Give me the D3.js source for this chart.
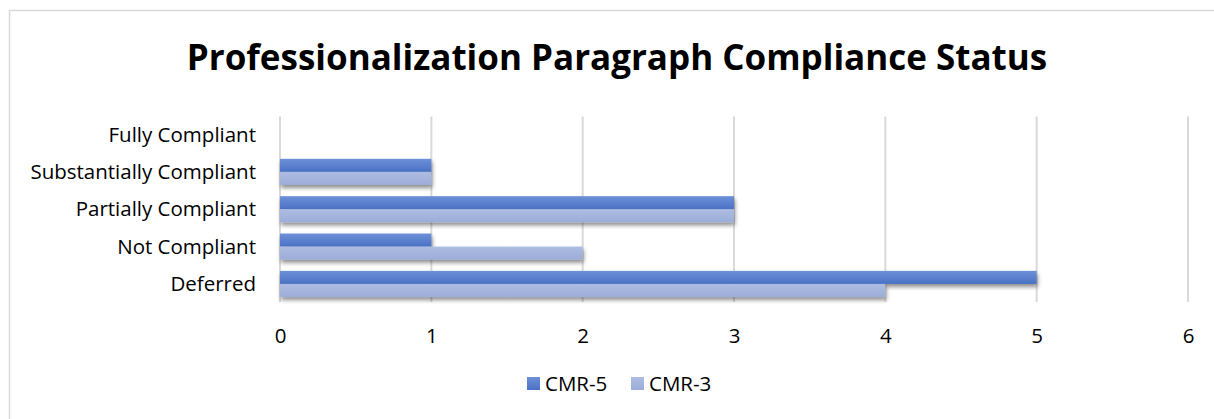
<!DOCTYPE html>
<html>
<head>
<meta charset="utf-8">
<script src="https://cdn.jsdelivr.net/npm/d3@7"></script>
<style>
  body { margin: 0; background: #fff; }
  svg text { font-family: "Open Sans", sans-serif; fill: #000; }
</style>
</head>
<body>
<div id="container"></div>
<script>
/* DATA */
const categories = ["Fully Compliant", "Substantially Compliant", "Partially Compliant", "Not Compliant", "Deferred"];
const seriesNames = ["CMR-5", "CMR-3"];
const cmr5 = [0, 1, 3, 1, 5];
const cmr3 = [0, 1, 3, 2, 4];
const xTicks = [0, 1, 2, 3, 4, 5, 6];
const title = "Professionalization Paragraph Compliance Status";

/* CONSTANTS */
const width = 1214, height = 419,
      margin = {top: 115.5, bottom: 116, left: 280, right: 26},
      labelSize = 20.5;
const colors = {
  "CMR-5": ["#6d90d8", "#4a72c4"],
  "CMR-3": ["#adbce2", "#9badd9"]
};

const data = categories.map((c, i) => ({cat: c, values: [
  {key: "CMR-5", value: cmr5[i]},
  {key: "CMR-3", value: cmr3[i]}
]}));

const svg = d3.select("#container").append("svg")
  .attr("width", width)
  .attr("height", height);

// defs: gradients + shadow
const defs = svg.append("defs");
seriesNames.forEach((s, i) => {
  const g = defs.append("linearGradient")
    .attr("id", "grad" + i)
    .attr("x1", 0).attr("y1", 0).attr("x2", 0).attr("y2", 1);
  g.append("stop").attr("offset", "0%").attr("stop-color", colors[s][0]);
  g.append("stop").attr("offset", "100%").attr("stop-color", colors[s][1]);
});
const f = defs.append("filter").attr("id", "shadow")
  .attr("x", "-5%").attr("y", "-30%").attr("width", "110%").attr("height", "180%");
f.append("feDropShadow")
  .attr("dx", 1).attr("dy", 3).attr("stdDeviation", 2)
  .attr("flood-color", "#000").attr("flood-opacity", 0.45);

// chart border
svg.append("rect")
  .attr("x", 9.5).attr("y", 10.5)
  .attr("width", width + 20).attr("height", height + 20)
  .attr("fill", "none")
  .attr("stroke", "#d9d9d9")
  .attr("stroke-width", 1.5);

/* SCALES */
const xScale = d3.scaleLinear()
  .domain([0, 6])
  .range([margin.left, width - margin.right]);

const yScale = d3.scaleBand()
  .domain(categories)
  .range([margin.top, height - margin.bottom])
  .paddingInner(0.3)
  .paddingOuter(0.16);

const ySub = d3.scaleBand()
  .domain(seriesNames)
  .range([0, yScale.bandwidth()]);

// gridlines
svg.append("g")
  .selectAll("line")
  .data(xTicks)
  .join("line")
  .attr("x1", d => xScale(d)).attr("x2", d => xScale(d))
  .attr("y1", margin.top + 1).attr("y2", height - margin.bottom - 1)
  .attr("stroke", "#d9d9d9")
  .attr("stroke-width", 2);

// x axis labels
const xAxis = d3.axisBottom(xScale)
  .tickValues(xTicks)
  .tickFormat(d3.format("d"))
  .tickSize(0).tickPadding(0);
const xg = svg.append("g")
  .attr("transform", `translate(0,${height - margin.bottom})`)
  .call(xAxis);
xg.select(".domain").remove();
xg.selectAll("text")
  .attr("dy", null)
  .attr("y", 40)
  .attr("font-size", labelSize)
  .style("font-family", "'Open Sans', sans-serif")
  .attr("fill", "#000");

// y axis labels
const yAxis = d3.axisLeft(yScale).tickSize(0).tickPadding(0);
const yg = svg.append("g")
  .attr("transform", `translate(${margin.left - 24},0)`)
  .call(yAxis);
yg.select(".domain").remove();
yg.selectAll("text")
  .attr("font-size", labelSize)
  .attr("dy", "0.35em")
  .style("font-family", "'Open Sans', sans-serif")
  .attr("fill", "#000");

/* BARS */
const groups = svg.append("g").selectAll("g")
  .data(data)
  .join("g")
  .attr("transform", d => `translate(0,${yScale(d.cat)})`);

groups.selectAll("rect")
  .data(d => d.values.filter(v => v.value > 0))
  .join("rect")
  .attr("x", xScale(0))
  .attr("y", d => ySub(d.key))
  .attr("width", d => xScale(d.value) - xScale(0))
  .attr("height", ySub.bandwidth())
  .attr("fill", d => `url(#grad${seriesNames.indexOf(d.key)})`)
  .attr("filter", "url(#shadow)");

/* TITLE */
svg.append("text")
  .attr("x", 617)
  .attr("y", 70)
  .attr("text-anchor", "middle")
  .attr("font-size", 35)
  .attr("font-weight", "bold")
  .text(title);

/* LEGEND */
const legend = svg.append("g").attr("transform", "translate(527,377)");
const item = legend.selectAll("g")
  .data(seriesNames)
  .join("g")
  .attr("transform", (d, i) => `translate(${i * 104},0)`);
item.append("rect")
  .attr("width", 13).attr("height", 13)
  .attr("fill", (d, i) => `url(#grad${i})`);
item.append("text")
  .attr("x", 18).attr("y", 14)
  .attr("font-size", labelSize)
  .text(d => d);
</script>
</body>
</html>
